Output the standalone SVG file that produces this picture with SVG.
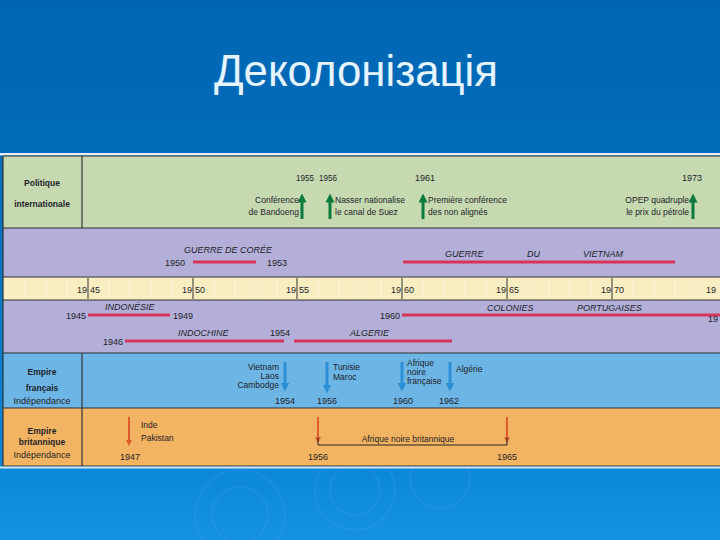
<svg xmlns="http://www.w3.org/2000/svg" width="720" height="540" viewBox="0 0 720 540">
<defs>
<linearGradient id="bg" x1="0" y1="0" x2="0" y2="1">
<stop offset="0" stop-color="#0066b3"/>
<stop offset="0.3" stop-color="#006cba"/>
<stop offset="0.85" stop-color="#0a86d8"/>
<stop offset="1" stop-color="#1692e2"/>
</linearGradient>
<marker id="ag" viewBox="0 0 10 10" refX="5" refY="5" markerWidth="3" markerHeight="3" orient="auto"><path d="M0,0 L10,5 L0,10 z" fill="#0b7a3c"/></marker>
<marker id="ab" viewBox="0 0 10 10" refX="5" refY="5" markerWidth="3" markerHeight="3" orient="auto"><path d="M0,0 L10,5 L0,10 z" fill="#2b8fd6"/></marker>
<marker id="ar" viewBox="0 0 10 10" refX="5" refY="5" markerWidth="3" markerHeight="3" orient="auto"><path d="M0,0 L10,5 L0,10 z" fill="#e05a2a"/></marker>
</defs>
<style>
text{font-family:"Liberation Sans",Arial,sans-serif;fill:#1e1e28;font-size:8.5px}
.b{font-weight:bold}
.i{font-style:italic;font-size:9px}
.c{text-anchor:middle}
.e{text-anchor:end}
.yr{font-size:9px}
.rl{stroke:#d8345a;stroke-width:3}
.gl{stroke:#0b7a3c;stroke-width:3}
.bl{stroke:#2b8fd6;stroke-width:3}
.ol{stroke:#e05a2a;stroke-width:2}
.sep{stroke:#333;stroke-width:1.2}
.tick{stroke:#333;stroke-width:1}
.str{stroke:#fff;stroke-opacity:0.4;stroke-width:1}
.rip{fill:none;stroke:#5fb4f0;stroke-opacity:0.14;stroke-width:2}
</style>
<rect x="0" y="0" width="720" height="540" fill="url(#bg)"/>
<g id="ripples">
<circle class="rip" cx="240" cy="515" r="28"/>
<circle class="rip" cx="240" cy="515" r="45"/>
<circle class="rip" cx="355" cy="490" r="25"/>
<circle class="rip" cx="355" cy="490" r="40"/>
<circle class="rip" cx="440" cy="478" r="30"/>
</g>
<text x="356" y="86" class="c" style="font-size:44px;fill:#e6f4ff" textLength="284" lengthAdjust="spacingAndGlyphs">Деколонізація</text>
<rect x="0" y="153" width="720" height="2.5" fill="#dfeef8"/>
<g id="rows">
<rect x="3" y="156" width="717" height="72" fill="#c6d9b1"/>
<rect x="3" y="228" width="717" height="49" fill="#b3afd9"/>
<rect x="3" y="277" width="717" height="23" fill="#f9eec2"/>
<rect x="3" y="300" width="717" height="53" fill="#b3afd9"/>
<rect x="3" y="353" width="717" height="55" fill="#6db5e5"/>
<rect x="3" y="408" width="717" height="58" fill="#f2b462"/>
</g>
<g id="stripes">
<line class="str" x1="109" y1="278" x2="109" y2="299"/><line class="str" x1="130" y1="278" x2="130" y2="299"/><line class="str" x1="151" y1="278" x2="151" y2="299"/><line class="str" x1="172" y1="278" x2="172" y2="299"/>
<line class="str" x1="214" y1="278" x2="214" y2="299"/><line class="str" x1="235" y1="278" x2="235" y2="299"/><line class="str" x1="256" y1="278" x2="256" y2="299"/><line class="str" x1="277" y1="278" x2="277" y2="299"/>
<line class="str" x1="318" y1="278" x2="318" y2="299"/><line class="str" x1="339" y1="278" x2="339" y2="299"/><line class="str" x1="360" y1="278" x2="360" y2="299"/><line class="str" x1="381" y1="278" x2="381" y2="299"/>
<line class="str" x1="423" y1="278" x2="423" y2="299"/><line class="str" x1="444" y1="278" x2="444" y2="299"/><line class="str" x1="465" y1="278" x2="465" y2="299"/><line class="str" x1="486" y1="278" x2="486" y2="299"/>
<line class="str" x1="528" y1="278" x2="528" y2="299"/><line class="str" x1="549" y1="278" x2="549" y2="299"/><line class="str" x1="570" y1="278" x2="570" y2="299"/><line class="str" x1="591" y1="278" x2="591" y2="299"/>
<line class="str" x1="633" y1="278" x2="633" y2="299"/><line class="str" x1="654" y1="278" x2="654" y2="299"/><line class="str" x1="675" y1="278" x2="675" y2="299"/><line class="str" x1="696" y1="278" x2="696" y2="299"/>
<line class="str" x1="67" y1="278" x2="67" y2="299"/><line class="str" x1="46" y1="278" x2="46" y2="299"/><line class="str" x1="25" y1="278" x2="25" y2="299"/>
</g>
<g id="grid">
<line class="sep" x1="3" y1="156" x2="720" y2="156"/>
<line class="sep" x1="3" y1="228" x2="720" y2="228"/>
<line class="sep" x1="3" y1="277" x2="720" y2="277"/>
<line class="sep" x1="3" y1="300" x2="720" y2="300"/>
<line class="sep" x1="3" y1="353" x2="720" y2="353"/>
<line class="sep" x1="3" y1="408" x2="720" y2="408"/>
<line class="sep" x1="3" y1="466" x2="720" y2="466"/>
<line class="sep" x1="3" y1="156" x2="3" y2="466"/>
<line class="sep" x1="82" y1="156" x2="82" y2="228"/>
<line class="sep" x1="82" y1="353" x2="82" y2="466"/>
</g>
<rect x="0" y="466.5" width="720" height="2" fill="#cfe6f6"/>
<g id="label-politique">
<text x="42" y="186" class="b c">Politique</text>
<text x="42" y="207" class="b c">internationale</text>
</g>
<g id="label-francais">
<text x="42" y="375" class="b c">Empire</text>
<text x="42" y="391" class="b c">français</text>
<text x="42" y="404" class="c" style="font-size:9px">Indépendance</text>
</g>
<g id="label-britannique">
<text x="42" y="434" class="b c">Empire</text>
<text x="42" y="445" class="b c">britannique</text>
<text x="42" y="458" class="c" style="font-size:9px">Indépendance</text>
</g>
<g id="connectors">
<line class="gl" x1="302" y1="219" x2="302" y2="198" marker-end="url(#ag)"/>
<line class="gl" x1="330" y1="219" x2="330" y2="198" marker-end="url(#ag)"/>
<line class="gl" x1="423" y1="219" x2="423" y2="198" marker-end="url(#ag)"/>
<line class="gl" x1="693" y1="219" x2="693" y2="198" marker-end="url(#ag)"/>
<line class="rl" x1="193" y1="262" x2="256" y2="262"/>
<line class="rl" x1="403" y1="262" x2="675" y2="262"/>
<line class="rl" x1="88" y1="315" x2="170" y2="315"/>
<line class="rl" x1="402" y1="315" x2="720" y2="315"/>
<line class="rl" x1="125" y1="341" x2="284" y2="341"/>
<line class="rl" x1="294" y1="341" x2="452" y2="341"/>
<line class="bl" x1="285" y1="362" x2="285" y2="387" marker-end="url(#ab)"/>
<line class="bl" x1="327" y1="362" x2="327" y2="389" marker-end="url(#ab)"/>
<line class="bl" x1="402" y1="362" x2="402" y2="387" marker-end="url(#ab)"/>
<line class="bl" x1="450" y1="362" x2="450" y2="387" marker-end="url(#ab)"/>
<line class="ol" x1="129" y1="417" x2="129" y2="443" marker-end="url(#ar)"/>
<line class="ol" x1="318" y1="417" x2="318" y2="440" marker-end="url(#ar)"/>
<line class="ol" x1="507" y1="417" x2="507" y2="440" marker-end="url(#ar)"/>
<polyline points="318,438 318,445 507,445 507,438" fill="none" stroke="#222" stroke-width="1"/>
</g>
<g id="ev-bandoeng">
<text x="314" y="181" class="yr e" textLength="18" lengthAdjust="spacingAndGlyphs">1955</text>
<text x="299" y="203" class="e">Conférence</text>
<text x="299" y="215" class="e">de Bandoeng</text>
</g>
<g id="ev-suez">
<text x="319" y="181" class="yr" textLength="18" lengthAdjust="spacingAndGlyphs">1956</text>
<text x="335" y="203">Nasser nationalise</text>
<text x="335" y="215">le canal de Suez</text>
</g>
<g id="ev-nonalignes">
<text x="415" y="181" class="yr">1961</text>
<text x="428" y="203">Première conférence</text>
<text x="428" y="215">des non alignés</text>
</g>
<g id="ev-opep">
<text x="682" y="181" class="yr">1973</text>
<text x="689" y="203" class="e">OPEP quadruple</text>
<text x="689" y="215" class="e">le prix du pétrole</text>
</g>
<g id="war-coree">
<text x="184" y="253" class="i">GUERRE DE CORÉE</text>
<text x="185" y="266" class="yr e">1950</text>
<text x="267" y="266" class="yr">1953</text>
</g>
<g id="war-vietnam">
<text x="445" y="257" class="i">GUERRE</text>
<text x="527" y="257" class="i">DU</text>
<text x="583" y="257" class="i">VIETNAM</text>
</g>
<g id="timeline">
<line class="tick" x1="88" y1="278" x2="88" y2="299"/><text x="87" y="293" class="yr e">19</text><text x="90" y="293" class="yr">45</text>
<line class="tick" x1="193" y1="278" x2="193" y2="299"/><text x="192" y="293" class="yr e">19</text><text x="195" y="293" class="yr">50</text>
<line class="tick" x1="297" y1="278" x2="297" y2="299"/><text x="296" y="293" class="yr e">19</text><text x="299" y="293" class="yr">55</text>
<line class="tick" x1="402" y1="278" x2="402" y2="299"/><text x="401" y="293" class="yr e">19</text><text x="404" y="293" class="yr">60</text>
<line class="tick" x1="507" y1="278" x2="507" y2="299"/><text x="506" y="293" class="yr e">19</text><text x="509" y="293" class="yr">65</text>
<line class="tick" x1="612" y1="278" x2="612" y2="299"/><text x="611" y="293" class="yr e">19</text><text x="614" y="293" class="yr">70</text>
<text x="716" y="293" class="yr e">19</text>
</g>
<g id="war-indonesie">
<text x="105" y="310" class="i">INDONÉSIE</text>
<text x="86" y="319" class="yr e">1945</text>
<text x="173" y="319" class="yr">1949</text>
</g>
<g id="war-indochine">
<text x="178" y="336" class="i">INDOCHINE</text>
<text x="123" y="345" class="yr e">1946</text>
<text x="270" y="336" class="yr">1954</text>
</g>
<g id="war-algerie">
<text x="350" y="336" class="i">ALGERIE</text>
</g>
<g id="war-portugal">
<text x="400" y="319" class="yr e">1960</text>
<text x="487" y="311" class="i">COLONIES</text>
<text x="577" y="311" class="i">PORTUGAISES</text>
<text x="718" y="322" class="yr e">19</text>
</g>
<g id="fr-1954">
<text x="279" y="370" class="e">Vietnam</text>
<text x="279" y="379" class="e">Laos</text>
<text x="279" y="388" class="e">Cambodge</text>
<text x="275" y="404" class="yr">1954</text>
</g>
<g id="fr-1956">
<text x="333" y="370">Tunisie</text>
<text x="333" y="380">Maroc</text>
<text x="317" y="404" class="yr">1956</text>
</g>
<g id="fr-1960">
<text x="407" y="366">Afrique</text>
<text x="407" y="375">noire</text>
<text x="407" y="384">française</text>
<text x="393" y="404" class="yr">1960</text>
</g>
<g id="fr-1962">
<text x="456" y="372">Algérie</text>
<text x="439" y="404" class="yr">1962</text>
</g>
<g id="br-1947">
<text x="141" y="428">Inde</text>
<text x="141" y="441">Pakistan</text>
<text x="120" y="460" class="yr">1947</text>
</g>
<g id="br-afrique">
<text x="408" y="442" class="c">Afrique  noire  britannique</text>
<text x="308" y="460" class="yr">1956</text>
<text x="497" y="460" class="yr">1965</text>
</g>
</svg>
